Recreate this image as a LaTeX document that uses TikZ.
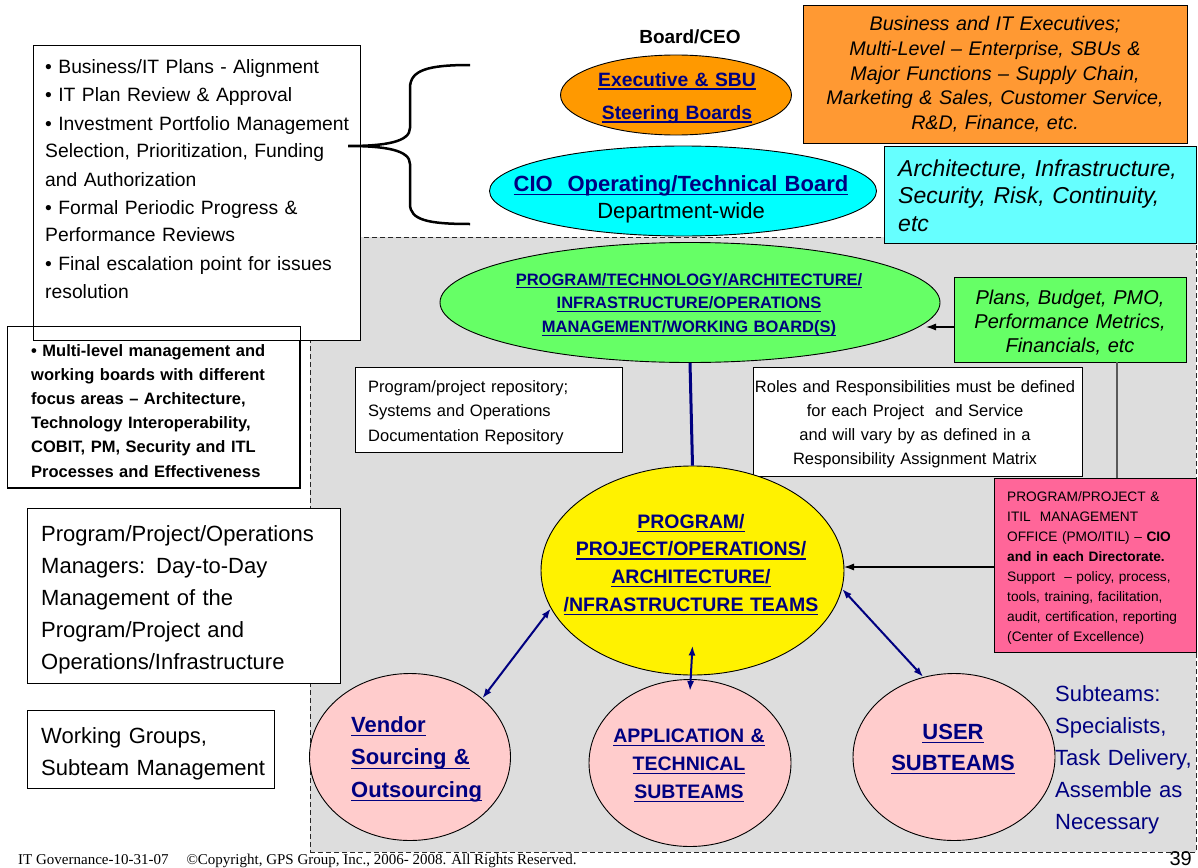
\documentclass[tikz,border=0pt]{standalone}
\usepackage{fontspec}
\setmainfont{Liberation Sans}
\newfontfamily\footerfont{Liberation Serif}
\usetikzlibrary{shapes.geometric,arrows.meta}

\definecolor{navy}{HTML}{000080}
\definecolor{execorange}{HTML}{FF9900}
\definecolor{noteorange}{HTML}{FF9933}
\definecolor{ciocyan}{HTML}{00FFFF}
\definecolor{notecyan}{HTML}{66FFFF}
\definecolor{boardgreen}{HTML}{66FF66}
\definecolor{pmopink}{HTML}{FF6699}
\definecolor{teampink}{HTML}{FFCCCC}
\definecolor{panelgray}{HTML}{DDDDDD}

\newcommand{\fsz}[2]{\fontsize{#1}{#2}\selectfont}
% underline at a fixed depth below the baseline
\newsavebox{\ulinebox}
\newcommand{\uln}[1]{\sbox{\ulinebox}{#1}\leavevmode
  \rlap{\rule[-0.2em]{\wd\ulinebox}{1.4pt}}\usebox{\ulinebox}}

\begin{document}
\begin{tikzpicture}[x=1pt,y=-1pt,
  frame/.style={draw=black, line width=1pt, inner sep=0pt, anchor=north west},
  oval/.style={ellipse, draw=black, line width=0.9pt, inner sep=0pt},
  lefttext/.style={inner sep=0pt, anchor=base west, align=left},
  midtext/.style={inner sep=0pt, anchor=base, align=center},
  link/.style={navy, line width=2pt, {Latex[length=10pt,width=7pt]}-{Latex[length=10pt,width=7pt]}},
  feed/.style={black, line width=1.1pt, -{Latex[length=10pt,width=7pt]}},
]
\useasboundingbox (0,0) rectangle (1198,867);

% shaded working area
\node[frame, fill=panelgray, draw=black!85, line width=0.8pt, dash pattern=on 5pt off 3pt,
      minimum width=886pt, minimum height=615pt] (panel) at (310,237) {};

% left-hand boxes
\node[frame, fill=white, minimum width=292pt, minimum height=161pt] (multi) at (7,326) {};
\node[frame, fill=white, minimum width=327pt, minimum height=295pt] (plans) at (33,45) {};
\draw[line width=1pt] (multi.north west) rectangle (multi.south east);
\node[frame, fill=white, minimum width=313pt, minimum height=175pt] (mgrs) at (27,508) {};
\node[frame, fill=white, minimum width=247pt, minimum height=78pt] (wgroups) at (27,710) {};

\node[lefttext, text width=320pt, font=\fsz{19.3}{28}] (planstxt) at (45,74)
  {• Business/IT Plans - Alignment\\
   • IT Plan Review \& Approval\\
   • Investment Portfolio Management\\
   Selection, Prioritization, Funding\\
   and Authorization\\
   • Formal Periodic Progress \&\\
   Performance Reviews\\
   • Final escalation point for issues\\
   resolution};
\node[lefttext, text width=270pt, font=\fsz{16.5}{24.2}\bfseries] (multitxt) at (31,356)
  {• Multi-level management and\\
   working boards with different\\
   focus areas – Architecture,\\
   Technology Interoperability,\\
   COBIT, PM, Security and ITL\\
   Processes and Effectiveness};
\node[lefttext, text width=300pt, font=\fsz{22}{32}] (mgrstxt) at (41,541)
  {Program/Project/Operations\\
   Managers: Day-to-Day\\
   Management of the\\
   Program/Project and\\
   Operations/Infrastructure};
\node[lefttext, text width=240pt, font=\fsz{22}{32}] (wgroupstxt) at (41,743)
  {Working Groups,\\Subteam Management};

% brace grouping the two top boards
\draw[line width=2.5pt] (470,65) .. controls (428,65) and (410,70) .. (410,88)
  -- (410,128) .. controls (410,142) and (385,146) .. (348,146)
  .. controls (385,146) and (410,150) .. (410,164)
  -- (410,204) .. controls (410,220) and (428,224) .. (470,224);

% top boards
\node[midtext, font=\fsz{19}{24}\bfseries] (ceo) at (690,44) {Board/CEO};
\node[oval, fill=execorange, minimum width=231pt, minimum height=80pt] (exec) at (676,95) {};
\node[midtext, text width=220pt, text=navy, font=\fsz{19.3}{33}\bfseries] (exectxt) at (677,86)
  {\uln{Executive \& SBU}\\\uln{Steering Boards}};
\node[oval, fill=ciocyan, minimum width=387pt, minimum height=90pt] (cio) at (683,191) {};
\node[midtext, text width=380pt, text=navy, font=\fsz{22}{27}] (ciotxt) at (681,191)
  {{\bfseries\uln{CIO\ \ Operating/Technical Board}}\\{\color{black}Department-wide}};

% notes on the right
\node[frame, fill=noteorange, minimum width=384pt, minimum height=138pt] (execnote) at (803,5) {};
\node[midtext, text width=380pt, font=\fsz{19.7}{24.6}\itshape] (execnotetxt) at (995,31)
  {Business and IT Executives;\\
   Multi-Level – Enterprise, SBUs \&\\
   Major Functions – Supply Chain,\\
   Marketing \& Sales, Customer Service,\\
   R\&D, Finance, etc.};
\node[frame, fill=notecyan, minimum width=312pt, minimum height=97pt] (cionote) at (884,146) {};
\node[lefttext, text width=300pt, font=\fsz{23}{27.5}\itshape] (cionotetxt) at (898,176)
  {Architecture, Infrastructure,\\Security, Risk, Continuity,\\etc};

% working boards
\node[oval, fill=boardgreen, minimum width=500pt, minimum height=120pt] (board) at (690,302.5) {};
\node[midtext, text width=480pt, text=navy, font=\fsz{16.5}{23.8}\bfseries] (boardtxt) at (689,285)
  {\uln{PROGRAM/TECHNOLOGY/ARCHITECTURE/}\\
   \uln{INFRASTRUCTURE/OPERATIONS}\\
   \uln{MANAGEMENT/WORKING BOARD(S)}};
\node[frame, fill=boardgreen, minimum width=232pt, minimum height=85pt] (plannote) at (954,277) {};
\node[midtext, text width=230pt, font=\fsz{20}{24}\itshape] (plannotetxt) at (1070,304)
  {Plans, Budget, PMO,\\Performance Metrics,\\Financials, etc};

\node[frame, fill=white, minimum width=267pt, minimum height=85pt] (repo) at (355,367) {};
\node[lefttext, text width=250pt, font=\fsz{16.5}{24.5}] (repotxt) at (368,392)
  {Program/project repository;\\Systems and Operations\\Documentation Repository};
\node[frame, fill=white, minimum width=329pt, minimum height=109pt] (roles) at (753,367) {};
\node[midtext, text width=325pt, font=\fsz{16.5}{24}] (rolestxt) at (915,392)
  {Roles and Responsibilities must be defined\\
   for each Project\ \ and Service\\
   and will vary by as defined in a\\
   Responsibility Assignment Matrix};

% teams
\node[oval, fill=yellow, minimum width=303pt, minimum height=209pt] (teams) at (692.5,570.5) {};
\node[midtext, text width=290pt, text=navy, font=\fsz{19.5}{27.7}\bfseries] (teamstxt) at (691,528)
  {\uln{PROGRAM/}\\\uln{PROJECT/OPERATIONS/}\\\uln{ARCHITECTURE/}\\\uln{/NFRASTRUCTURE TEAMS}};

\node[frame, fill=pmopink, minimum width=202pt, minimum height=174pt] (pmo) at (994,478) {};
\node[lefttext, text width=188pt, font=\fsz{13.7}{20.1}] (pmotxt) at (1007,501)
  {PROGRAM/PROJECT \&\\
   ITIL\ \ MANAGEMENT\\
   OFFICE (PMO/ITIL) – \textbf{CIO}\\
   \textbf{and in each Directorate.}\\
   Support\ \ – policy, process,\\
   tools, training, facilitation,\\
   audit, certification, reporting\\
   (Center of Excellence)};

\node[oval, fill=teampink, minimum width=201pt, minimum height=167pt] (vendor) at (410,757) {};
\node[lefttext, text width=150pt, text=navy, font=\fsz{22}{32.5}\bfseries] (vendortxt) at (351,732)
  {\uln{Vendor}\\\uln{Sourcing \&}\\\uln{Outsourcing}};
\node[oval, fill=teampink, minimum width=202pt, minimum height=167pt] (apps) at (690,763) {};
\node[midtext, text width=190pt, text=navy, font=\fsz{19.5}{28}\bfseries] (appstxt) at (689,742)
  {\uln{APPLICATION \&}\\\uln{TECHNICAL}\\\uln{SUBTEAMS}};
\node[oval, fill=teampink, minimum width=202pt, minimum height=167pt] (users) at (954,757) {};
\node[midtext, text width=190pt, text=navy, font=\fsz{22}{31}\bfseries] (userstxt) at (953,739)
  {\uln{USER}\\\uln{SUBTEAMS}};
\node[lefttext, text width=145pt, text=navy, font=\fsz{22}{32}] (subtxt) at (1055,701)
  {Subteams:\\Specialists,\\Task Delivery,\\Assemble as\\Necessary};

% connectors
\draw[navy, line width=3pt] (board.south) -- (teams.north);
\draw[feed] (plannote.west |- 0,327) -- (926,327) coordinate (boardin);
\coordinate (pmolink) at (1117,362);
\draw[black!65, line width=1.5pt] (pmolink) -- (pmolink |- pmo.north);
\draw[feed] (pmo.west |- 0,567) -- (844,567) coordinate (teamsin);
\draw[link] (teams.195) -- (vendor.39);
\draw[link] ([yshift=30pt]teams.south) -- ([yshift=-12pt]apps.north);
\draw[link] (teams.-7) -- (users.111);

% footer
\node[lefttext, font=\footerfont\fsz{15}{17}] (footer) at (18,864)
  {IT Governance-10-31-07\hspace{18pt}©Copyright, GPS Group, Inc., 2006- 2008. All Rights Reserved.};
\node[inner sep=0pt, anchor=base east, font=\fsz{20}{24}] (pagenum) at (1192,865) {39};
\end{tikzpicture}
\end{document}
